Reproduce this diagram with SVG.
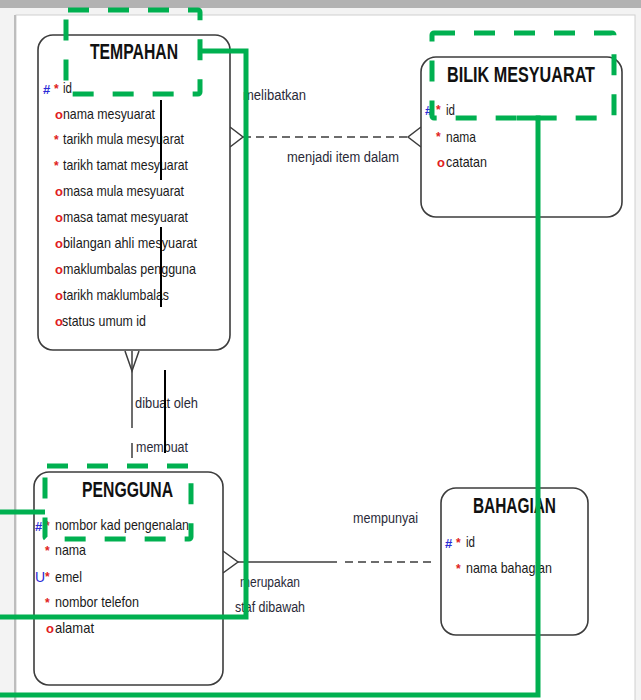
<svg xmlns="http://www.w3.org/2000/svg" width="641" height="700" viewBox="0 0 641 700">
<style>
.box{fill:#fff;stroke:#3c3c3c;stroke-width:1.6}
.title{font-family:"Liberation Sans",Arial,sans-serif;font-weight:bold;font-size:22px;fill:#111}
.att{font-family:"Liberation Sans",Arial,sans-serif;font-size:15px;fill:#1a1a1a}
.lbl{font-family:"Liberation Sans",Arial,sans-serif;font-size:14px;fill:#2a2a38}
.pk{font-family:"Liberation Sans",Arial,sans-serif;font-size:13px;font-weight:bold;fill:#2b2bd6}
.req{font-family:"Liberation Sans",Arial,sans-serif;font-size:12px;font-weight:bold;fill:#e02020}
.opt{font-family:"Liberation Sans",Arial,sans-serif;font-size:13px;font-weight:bold;fill:#e02020}
.rel{fill:none;stroke:#3c3c3c;stroke-width:1.5}
.dash{stroke-dasharray:8 5}
.blk{stroke:#000;stroke-width:2;fill:none}
.gd{fill:none;stroke:#00b050;stroke-width:5;stroke-dasharray:21 19}
.gs{fill:none;stroke:#00b050;stroke-width:5}
</style>
<!-- frame -->
<rect x="0" y="0" width="641" height="700" fill="#f3f3f3"/>
<rect x="0" y="0" width="641" height="8" fill="#b2b2b2"/>
<rect x="16" y="15" width="619" height="690" fill="#fff" stroke="#d0d0d0" stroke-width="1"/>
<line x1="15" y1="15" x2="15" y2="700" stroke="#bdbdbd" stroke-width="2"/>

<g id="connectors">
  <!-- TEMPAHAN - BILIK -->
  <line class="rel dash" x1="243" y1="137" x2="408" y2="137"/>
  <path class="rel" d="M230,127 L243,137 L230,147"/>
  <path class="rel" d="M421,127 L408,137 L421,147"/>
  <!-- TEMPAHAN - PENGGUNA -->
  <path class="rel" d="M125,351 L132,371 L139,351"/>
  <line class="rel" x1="132" y1="351" x2="132" y2="428"/>
  <line class="rel" x1="132" y1="443" x2="132" y2="458"/>
  <!-- PENGGUNA - BAHAGIAN -->
  <path class="rel" d="M223,551 L238,562 L223,573"/>
  <line class="rel" x1="238" y1="562" x2="337" y2="562"/>
  <line class="rel dash" x1="345" y1="562" x2="436" y2="562"/>
  <text class="lbl" x="243" y="100" textLength="63" lengthAdjust="spacingAndGlyphs">melibatkan</text>
  <text class="lbl" x="287" y="162" textLength="112" lengthAdjust="spacingAndGlyphs">menjadi item dalam</text>
  <text class="lbl" x="135" y="408" textLength="63" lengthAdjust="spacingAndGlyphs">dibuat oleh</text>
  <text class="lbl" x="136" y="452" textLength="52" lengthAdjust="spacingAndGlyphs">membuat</text>
  <text class="lbl" x="353" y="523" textLength="65" lengthAdjust="spacingAndGlyphs">mempunyai</text>
  <text class="lbl" x="240" y="587" textLength="60" lengthAdjust="spacingAndGlyphs">merupakan</text>
  <text class="lbl" x="235" y="612" textLength="70" lengthAdjust="spacingAndGlyphs">staf dibawah</text>
</g>

<g id="tempahan">
  <rect class="box" x="38" y="35" width="192" height="315" rx="15"/>
  <text class="title" x="90" y="59" textLength="88" lengthAdjust="spacingAndGlyphs">TEMPAHAN</text>
  <text class="pk" x="43" y="94">#</text><text class="req" x="54" y="93">*</text>
  <text class="att" x="63" y="93" textLength="9" lengthAdjust="spacingAndGlyphs">id</text>
  <text class="opt" x="55" y="119">o</text>
  <text class="att" x="63" y="119" textLength="92" lengthAdjust="spacingAndGlyphs">nama mesyuarat</text>
  <text class="req" x="54" y="144">*</text>
  <text class="att" x="63" y="144" textLength="121" lengthAdjust="spacingAndGlyphs">tarikh mula mesyuarat</text>
  <text class="req" x="54" y="170">*</text>
  <text class="att" x="63" y="170" textLength="125" lengthAdjust="spacingAndGlyphs">tarikh tamat mesyuarat</text>
  <text class="opt" x="55" y="196">o</text>
  <text class="att" x="63" y="196" textLength="121" lengthAdjust="spacingAndGlyphs">masa mula mesyuarat</text>
  <text class="opt" x="55" y="222">o</text>
  <text class="att" x="63" y="222" textLength="125" lengthAdjust="spacingAndGlyphs">masa tamat mesyuarat</text>
  <text class="opt" x="55" y="248">o</text>
  <text class="att" x="63" y="248" textLength="134" lengthAdjust="spacingAndGlyphs">bilangan ahli mesyuarat</text>
  <text class="opt" x="55" y="274">o</text>
  <text class="att" x="63" y="274" textLength="133" lengthAdjust="spacingAndGlyphs">maklumbalas pengguna</text>
  <text class="opt" x="55" y="300">o</text>
  <text class="att" x="63" y="300" textLength="106" lengthAdjust="spacingAndGlyphs">tarikh maklumbalas</text>
  <text class="opt" x="55" y="326">o</text>
  <text class="att" x="62" y="326" textLength="84" lengthAdjust="spacingAndGlyphs">status umum id</text>
</g>

<g id="bilik-mesyuarat">
  <rect class="box" x="421" y="57" width="201" height="160" rx="15"/>
  <text class="title" x="447" y="82" textLength="148" lengthAdjust="spacingAndGlyphs">BILIK MESYUARAT</text>
  <text class="pk" x="425" y="115">#</text><text class="req" x="436" y="114">*</text>
  <text class="att" x="446" y="115" textLength="9" lengthAdjust="spacingAndGlyphs">id</text>
  <text class="req" x="436" y="141">*</text>
  <text class="att" x="446" y="142" textLength="30" lengthAdjust="spacingAndGlyphs">nama</text>
  <text class="opt" x="437" y="167">o</text>
  <text class="att" x="446" y="167" textLength="41" lengthAdjust="spacingAndGlyphs">catatan</text>
</g>

<g id="pengguna">
  <rect class="box" x="34" y="472" width="189" height="213" rx="15"/>
  <text class="title" x="82" y="497" textLength="91" lengthAdjust="spacingAndGlyphs">PENGGUNA</text>
  <text class="pk" x="35" y="531">#</text><text class="req" x="45" y="530">*</text>
  <text class="att" x="55" y="530" textLength="134" lengthAdjust="spacingAndGlyphs">nombor kad pengenalan</text>
  <text class="req" x="45" y="555">*</text>
  <text class="att" x="55" y="555" textLength="31" lengthAdjust="spacingAndGlyphs">nama</text>
  <text class="pk" x="35" y="582" style="font-weight:normal;font-size:14px">U</text><text class="req" x="45" y="581">*</text>
  <text class="att" x="55" y="582" textLength="27" lengthAdjust="spacingAndGlyphs">emel</text>
  <text class="req" x="45" y="607">*</text>
  <text class="att" x="55" y="607" textLength="84" lengthAdjust="spacingAndGlyphs">nombor telefon</text>
  <text class="opt" x="46" y="633">o</text>
  <text class="att" x="55" y="633" textLength="39" lengthAdjust="spacingAndGlyphs">alamat</text>
</g>

<g id="bahagian">
  <rect class="box" x="441" y="488" width="147" height="147" rx="15"/>
  <text class="title" x="473" y="513" textLength="83" lengthAdjust="spacingAndGlyphs">BAHAGIAN</text>
  <text class="pk" x="445" y="548">#</text><text class="req" x="456" y="547">*</text>
  <text class="att" x="466" y="547" textLength="9" lengthAdjust="spacingAndGlyphs">id</text>
  <text class="req" x="456" y="573">*</text>
  <text class="att" x="466" y="573" textLength="86" lengthAdjust="spacingAndGlyphs">nama bahagian</text>
</g>

<g id="marks">
  <line class="blk" x1="161" y1="100" x2="161" y2="180"/>
  <line class="blk" x1="161" y1="227" x2="161" y2="307"/>
  <line class="blk" x1="165" y1="370" x2="165" y2="453"/>
</g>

<g id="highlights">
  <rect class="gd" x="66" y="10" width="134" height="84" rx="2"/>
  <polyline class="gs" points="200,51 246,51 246,617 0,617"/>
  <rect class="gd" x="432" y="33" width="182" height="85" rx="2"/>
  <polyline class="gs" points="517,118 538,118 538,695 0,695"/>
  <rect class="gd" x="45" y="466" width="146" height="73" rx="2"/>
  <line class="gs" x1="0" y1="512" x2="45" y2="512"/>
</g>
</svg>
